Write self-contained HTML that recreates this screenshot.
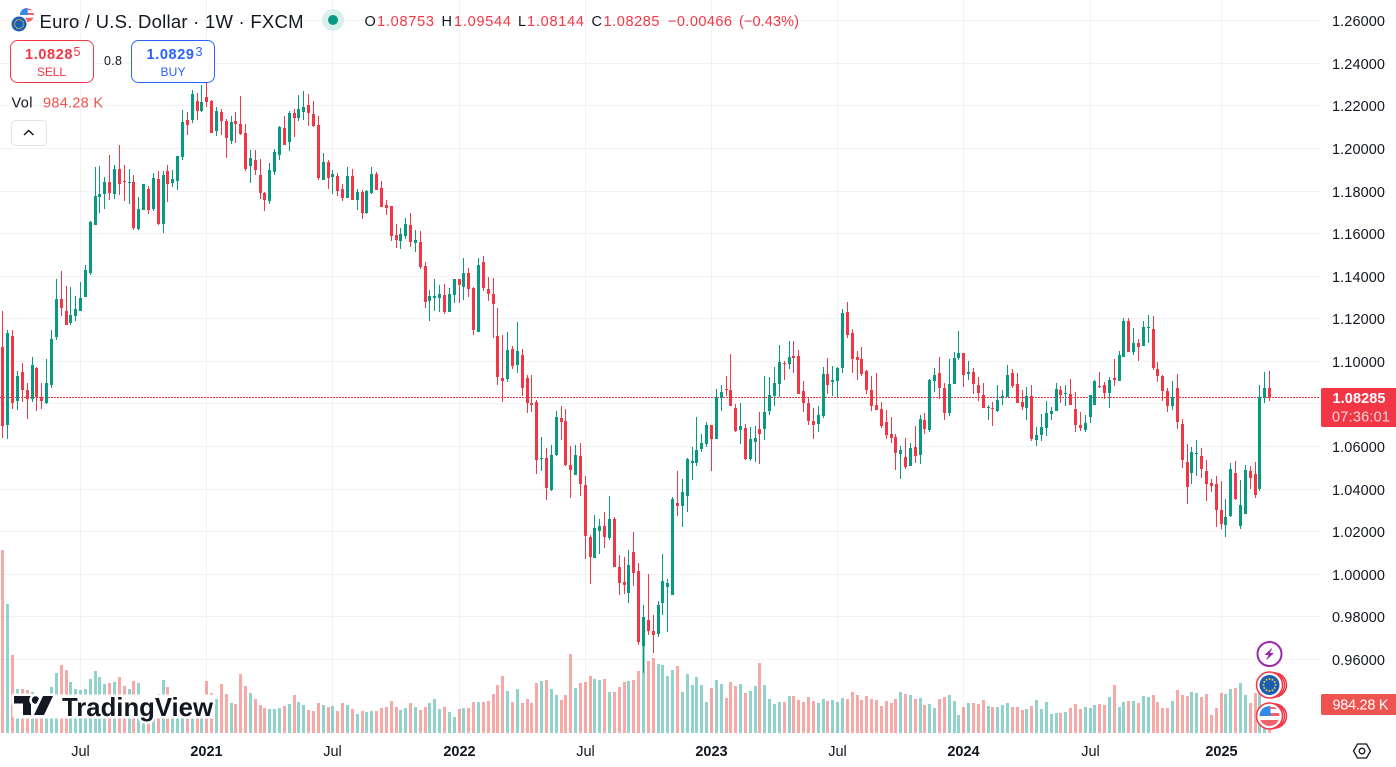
<!DOCTYPE html>
<html lang="en">
<head>
<meta charset="utf-8">
<title>Euro / U.S. Dollar 1W FXCM</title>
<style>
html,body{margin:0;padding:0;background:#fff;width:1396px;height:767px;overflow:hidden}
svg{display:block;font-family:"Liberation Sans",sans-serif}
text{fill:#131722}
</style>
</head>
<body>
<svg id="chart" xmlns="http://www.w3.org/2000/svg" width="1396" height="767" viewBox="0 0 1396 767">
<defs>
<clipPath id="us-clip"><circle cx="0" cy="0" r="10"/></clipPath>
<g id="eu-flag">
<circle r="10" fill="#1a5db4"/>
<g fill="#e6c63a">
<circle cx="0" cy="-6" r="1"/><circle cx="3" cy="-5.2" r="1"/><circle cx="5.2" cy="-3" r="1"/><circle cx="6" cy="0" r="1"/><circle cx="5.2" cy="3" r="1"/><circle cx="3" cy="5.2" r="1"/><circle cx="0" cy="6" r="1"/><circle cx="-3" cy="5.2" r="1"/><circle cx="-5.2" cy="3" r="1"/><circle cx="-6" cy="0" r="1"/><circle cx="-5.2" cy="-3" r="1"/><circle cx="-3" cy="-5.2" r="1"/>
</g>
</g>
<g id="us-flag">
<g clip-path="url(#us-clip)">
<rect x="-10" y="-10" width="20" height="20" fill="#fff"/>
<rect x="-10" y="-3" width="20" height="3" fill="#f0626c"/>
<rect x="-10" y="4" width="20" height="6" fill="#f0626c"/>
<rect x="-10" y="-10" width="11" height="10" fill="#2f8ae8"/>
<rect x="0" y="-9" width="10" height="2" fill="#f0626c"/>
</g>
</g>
</defs>

<g id="grid"></g>
<g id="volumes"></g>
<line id="lastLine" x1="0" x2="1319" stroke="#f23645" stroke-width="1" stroke-dasharray="2 1"/>
<g id="candles" shape-rendering="crispEdges"></g>

<!-- watermark -->
<g>
<rect x="12.500" y="694.500" width="202" height="24" rx="3" fill="#fff"/>
<g stroke="#fff" stroke-width="5" stroke-linejoin="round" paint-order="stroke" fill="#131722">
<path d="M14 696H31V715H23V703.500H14Z"/>
<circle cx="35.500" cy="700" r="3.700"/>
<path d="M43 696H53L44 715H34Z"/>
</g>
<text x="62" y="716" font-size="26" font-weight="700" textLength="151" lengthAdjust="spacingAndGlyphs" stroke="#fff" stroke-width="5" stroke-linejoin="round" paint-order="stroke" style="fill:#131722">TradingView</text>
</g>

<!-- legend -->
<g>
<g>
<g transform="translate(27 15) scale(0.7)"><use href="#us-flag"/></g>
<circle cx="19" cy="24" r="8.500" fill="#fff"/>
<g transform="translate(19 24) scale(0.75)"><use href="#eu-flag"/></g>
</g>
<text x="39.500" y="28" font-size="18.500" textLength="264" lengthAdjust="spacing">Euro / U.S. Dollar · 1W · FXCM</text>
<circle cx="333" cy="20" r="11" fill="#d9efeb"/>
<circle cx="333" cy="20" r="5" fill="#089981"/>
</g>

<g font-size="14.500">
<text x="364.500" y="26" textLength="11" lengthAdjust="spacing">O</text>
<text x="377" y="26" textLength="57" lengthAdjust="spacing" style="fill:#f23645">1.08753</text>
<text x="441.500" y="26" textLength="11" lengthAdjust="spacing">H</text>
<text x="454" y="26" textLength="57" lengthAdjust="spacing" style="fill:#f23645">1.09544</text>
<text x="518" y="26">L</text>
<text x="527" y="26" textLength="57" lengthAdjust="spacing" style="fill:#f23645">1.08144</text>
<text x="591.500" y="26">C</text>
<text x="603.500" y="26" textLength="56" lengthAdjust="spacing" style="fill:#f23645">1.08285</text>
<text x="668" y="26" textLength="64" lengthAdjust="spacing" style="fill:#f23645">−0.00466</text>
<text x="739" y="26" textLength="60" lengthAdjust="spacing" style="fill:#f23645">(−0.43%)</text>
</g>

<!-- trade buttons -->
<g>
<rect x="10.500" y="40.500" width="83" height="42" rx="7" fill="#fff" stroke="#f23645"/>
<text x="25" y="59" font-size="14.500" font-weight="700" textLength="47.500" lengthAdjust="spacing" style="fill:#f23645">1.0828</text>
<text x="73.500" y="56" font-size="12.500" style="fill:#f23645">5</text>
<text x="37" y="76" font-size="12" textLength="29" lengthAdjust="spacing" style="fill:#f23645">SELL</text>
</g>
<text x="104" y="65" font-size="12.500" textLength="18" lengthAdjust="spacing">0.8</text>
<g>
<rect x="131.500" y="40.500" width="83" height="42" rx="7" fill="#fff" stroke="#2962ff"/>
<text x="146.500" y="59" font-size="14.500" font-weight="700" textLength="47.500" lengthAdjust="spacing" style="fill:#2962ff">1.0829</text>
<text x="195.500" y="56" font-size="12.500" style="fill:#2962ff">3</text>
<text x="160.500" y="76" font-size="12" textLength="25" lengthAdjust="spacing" style="fill:#2962ff">BUY</text>
</g>

<g>
<text x="11.500" y="107.500" font-size="14.500" textLength="21" lengthAdjust="spacing">Vol</text>
<text x="43" y="107.500" font-size="14.500" textLength="60" lengthAdjust="spacing" style="fill:#ef5350">984.28 K</text>
</g>
<g>
<rect x="11.500" y="120.500" width="35" height="25" rx="4" fill="#fff" stroke="#e0e3eb"/>
<path d="M24 135L28.700 130.500L33.500 135" fill="none" stroke="#131722" stroke-width="1.500"/>
</g>

<!-- axes -->
<g id="priceAxis"></g>
<g id="timeAxis"></g>

<g>
<path d="M1323 388H1396V427H1323Q1321 427 1321 425V390Q1321 388 1323 388Z" fill="#f23645"/>
<text x="1332.500" y="403" font-size="14.500" textLength="53" lengthAdjust="spacing" style="fill:#fff;font-weight:700">1.08285</text>
<text x="1332" y="421.500" font-size="14.500" textLength="58" lengthAdjust="spacing" style="fill:#fcd5d9">07:36:01</text>
</g>
<g>
<path d="M1323 694H1396V715H1323Q1321 715 1321 713V696Q1321 694 1323 694Z" fill="#ef5350"/>
<text x="1332.500" y="709.500" font-size="14.500" textLength="56" lengthAdjust="spacing" style="fill:#fff">984.28 K</text>
</g>

<!-- event markers -->
<g>
<circle cx="1269.500" cy="654" r="12" fill="#fff" stroke="#9c27b0" stroke-width="2"/>
<path d="M1272.500 647.500L1264.500 655H1268.500L1266 660.500L1274 653H1270Z" fill="#9c27b0"/>
</g>
<g>
<circle cx="1274.500" cy="685" r="12" fill="#fff" stroke="#f23645" stroke-width="1.500"/>
<circle cx="1272" cy="685" r="12.500" fill="#fff" stroke="#f23645" stroke-width="1.500"/>
<circle cx="1269.500" cy="685" r="13" fill="#fff" stroke="#f23645" stroke-width="1.500"/>
<g transform="translate(1269.500 685)"><use href="#eu-flag"/></g>
</g>
<g>
<circle cx="1274.500" cy="716" r="12" fill="#fff" stroke="#f23645" stroke-width="1.500"/>
<circle cx="1272" cy="716" r="12.500" fill="#fff" stroke="#f23645" stroke-width="1.500"/>
<circle cx="1269.500" cy="716" r="13" fill="#fff" stroke="#f23645" stroke-width="1.500"/>
<g transform="translate(1269.500 716)"><use href="#us-flag"/></g>
</g>

<g fill="none" stroke="#131722" stroke-width="1.300">
<path d="M1353.500 751L1357.500 744H1366.500L1370.500 751L1366.500 758H1357.500Z"/>
<circle cx="1362" cy="751" r="2.800"/>
</g>
</svg>

<script>
const opens = [
1.1069,1.0702,1.1119,1.0815,1.0948,1.0865,1.0821,1.0968,1.0828,1.0806,
1.0890,1.1116,1.1293,1.1236,1.1179,1.1213,1.1236,1.1302,1.1415,1.1640,
1.1772,1.1786,1.1842,1.1786,1.1903,1.1847,1.1838,1.1842,1.1621,1.1711,
1.1809,1.1715,1.1856,1.1645,1.1894,1.1838,1.1847,1.1960,1.2133,1.2133,
1.2223,1.2176,1.2242,1.2223,1.2082,1.2171,1.2129,1.2035,1.2129,1.2115,
1.2072,1.1917,1.1946,1.1875,1.1791,1.1753,1.1889,1.1969,1.2096,1.2030,
1.2166,1.2143,1.2171,1.2204,1.2162,1.2110,1.1852,1.1936,1.1866,1.1871,
1.1809,1.1767,1.1871,1.1758,1.1795,1.1697,1.1791,1.1880,1.1814,1.1734,
1.1730,1.1593,1.1565,1.1589,1.1640,1.1556,1.1560,1.1448,1.1283,1.1297,
1.1297,1.1312,1.1232,1.1312,1.1387,1.1349,1.1415,1.1344,1.1138,1.1467,
1.1340,1.1316,1.1119,1.0922,1.0917,1.1058,1.0983,1.1030,1.0922,1.0804,
1.0809,1.0541,1.0546,1.0395,1.0560,1.0734,1.0720,1.0513,1.0466,1.0555,
1.0419,1.0175,1.0076,1.0203,1.0226,1.0170,1.0259,1.0034,0.9963,0.9911,
1.0104,1.0015,0.9662,0.9785,0.9733,0.9719,0.9864,0.9939,0.9902,1.0334,
1.0320,1.0367,1.0522,1.0522,1.0588,1.0611,1.0701,1.0635,1.0828,1.0870,
1.0865,1.0781,1.0677,1.0687,1.0541,1.0621,1.0682,1.0682,1.0766,1.0837,
1.0893,1.0992,1.0987,1.1025,1.1025,1.0860,1.0804,1.0720,1.0705,1.0743,
1.0940,1.0903,1.0907,1.0969,1.1232,1.1133,1.1020,1.1011,1.0954,1.0865,
1.0795,1.0776,1.0715,1.0658,1.0644,1.0565,1.0550,1.0508,1.0597,1.0560,
1.0724,1.0677,1.0907,1.0945,1.0875,1.0757,1.0893,1.1016,1.1039,1.0940,
1.0950,1.0889,1.0842,1.0781,1.0781,1.0767,1.0828,1.0832,1.0945,1.0893,
1.0809,1.0781,1.0837,1.0630,1.0654,1.0687,1.0752,1.0767,1.0865,1.0846,
1.0846,1.0776,1.0701,1.0677,1.0738,1.0795,1.0884,1.0889,1.0851,1.0922,
1.0907,1.1020,1.1189,1.1044,1.1086,1.1072,1.1156,1.1152,1.0964,1.0931,
1.0860,1.0790,1.0875,1.0705,1.0527,1.0475,1.0564,1.0555,1.0485,1.0428,
1.0424,1.0301,1.0231,1.0273,1.0475,1.0226,1.0283,1.0485,1.0470,1.0400,
1.0828,1.08753];

const highs = [
1.1236,1.1147,1.1147,1.0955,1.0990,1.0896,1.1019,1.0975,1.0898,1.1009,
1.1147,1.1387,1.1424,1.1354,1.1349,1.1307,1.1372,1.1452,1.1659,1.1913,
1.1917,1.1866,1.1969,1.1922,1.2016,1.1922,1.1903,1.1875,1.1772,1.1833,
1.1823,1.1885,1.1894,1.1894,1.1922,1.1899,1.1964,1.2181,1.2171,1.2274,
1.2260,1.2300,1.2350,1.2228,1.2195,1.2185,1.2138,1.2152,1.2171,1.2246,
1.2115,1.1993,1.1993,1.1950,1.1795,1.1932,1.1997,1.2105,1.2152,1.2176,
1.2185,1.2251,1.2270,1.2256,1.2223,1.2152,1.1978,1.1946,1.1899,1.1885,
1.1833,1.1913,1.1904,1.1809,1.1805,1.1805,1.1913,1.1889,1.1847,1.1758,
1.1730,1.1645,1.1626,1.1673,1.1697,1.1617,1.1612,1.1467,1.1335,1.1387,
1.1359,1.1363,1.1344,1.1387,1.1387,1.1485,1.1438,1.1349,1.1485,1.1495,
1.1396,1.1391,1.1250,1.1124,1.1138,1.1072,1.1185,1.1058,1.0936,1.0936,
1.0818,1.0644,1.0593,1.0607,1.0767,1.0790,1.0776,1.0602,1.0607,1.0616,
1.0461,1.0184,1.0278,1.0259,1.0292,1.0367,1.0269,1.0090,1.0081,1.0113,
1.0198,1.0052,0.9855,1.0001,0.9808,0.9874,1.0095,0.9977,1.0362,1.0485,
1.0447,1.0546,1.0597,1.0738,1.0658,1.0715,1.0701,1.0870,1.0889,1.0931,
1.1034,1.0799,1.0804,1.0705,1.0691,1.0696,1.0762,1.0931,1.0926,1.0973,
1.1077,1.1001,1.1095,1.1095,1.1053,1.0907,1.0832,1.0781,1.0790,1.0973,
1.1015,1.0978,1.0973,1.1246,1.1279,1.1152,1.1048,1.1067,1.0959,1.0931,
1.0945,1.0809,1.0771,1.0738,1.0658,1.0602,1.0640,1.0616,1.0696,1.0748,
1.0757,1.0917,1.0969,1.1020,1.0898,1.1011,1.1044,1.1142,1.1039,1.1001,
1.0969,1.0926,1.0898,1.0795,1.0809,1.0889,1.0865,1.0983,1.0964,1.0945,
1.0865,1.0879,1.0889,1.0691,1.0752,1.0814,1.0785,1.0898,1.0884,1.0889,
1.0917,1.0856,1.0762,1.0748,1.0842,1.0912,1.0950,1.0903,1.0926,1.1011,
1.1048,1.1203,1.1203,1.1156,1.1105,1.1189,1.1218,1.1213,1.0997,1.0936,
1.0875,1.0907,1.0940,1.0729,1.0612,1.0597,1.0630,1.0593,1.0536,1.0447,
1.0461,1.0438,1.0353,1.0522,1.0532,1.0442,1.0513,1.0508,1.0527,1.0889,
1.0950,1.09544];

const lows = [
1.0640,1.0633,1.0776,1.0771,1.0810,1.0729,1.0810,1.0768,1.0776,1.0799,
1.0873,1.1100,1.1213,1.1170,1.1170,1.1189,1.1234,1.1302,1.1405,1.1640,
1.1697,1.1715,1.1758,1.1762,1.1781,1.1753,1.1739,1.1617,1.1617,1.1711,
1.1692,1.1706,1.1640,1.1603,1.1748,1.1819,1.1805,1.1946,1.2063,1.2119,
1.2133,1.2170,1.2195,1.2072,1.2058,1.2063,1.1955,1.2021,1.2026,1.2063,
1.1894,1.1838,1.1875,1.1762,1.1706,1.1739,1.1875,1.1946,1.2016,1.1988,
1.2054,1.2129,1.2133,1.2105,1.2101,1.1852,1.1852,1.1809,1.1786,1.1777,
1.1753,1.1767,1.1758,1.1711,1.1669,1.1692,1.1786,1.1805,1.1725,1.1687,
1.1565,1.1532,1.1527,1.1574,1.1537,1.1513,1.1434,1.1250,1.1189,1.1236,
1.1232,1.1222,1.1232,1.1274,1.1274,1.1288,1.1303,1.1124,1.1138,1.1330,
1.1283,1.1109,1.0889,1.0809,1.0903,1.0964,1.0945,1.0837,1.0757,1.0762,
1.0470,1.0485,1.0348,1.0391,1.0555,1.0630,1.0508,1.0358,1.0466,1.0367,
1.0071,0.9954,1.0076,1.0095,1.0123,1.0160,1.0034,0.9902,0.9907,0.9864,
0.9944,0.9667,0.9536,0.9714,0.9630,0.9705,0.9808,0.9728,0.9902,1.0273,
1.0221,1.0292,1.0442,1.0508,1.0574,1.0597,1.0485,1.0635,1.0766,1.0837,
1.0790,1.0668,1.0611,1.0536,1.0532,1.0527,1.0517,1.0630,1.0748,1.0790,
1.0832,1.0912,1.0964,1.0945,1.0846,1.0762,1.0701,1.0635,1.0668,1.0734,
1.0846,1.0837,1.0832,1.0945,1.1110,1.0945,1.0912,1.0931,1.0846,1.0767,
1.0771,1.0687,1.0635,1.0616,1.0489,1.0447,1.0494,1.0508,1.0522,1.0518,
1.0658,1.0668,1.0856,1.0823,1.0724,1.0743,1.0893,1.1006,1.0879,1.0912,
1.0846,1.0813,1.0781,1.0724,1.0696,1.0762,1.0795,1.0832,1.0875,1.0804,
1.0771,1.0724,1.0626,1.0602,1.0626,1.0649,1.0724,1.0767,1.0804,1.0790,
1.0795,1.0668,1.0672,1.0668,1.0710,1.0795,1.0875,1.0823,1.0781,1.0884,
1.0907,1.1020,1.1044,1.1030,1.1001,1.1072,1.1086,1.0959,1.0903,1.0813,
1.0762,1.0771,1.0682,1.0499,1.0330,1.0424,1.0461,1.0452,1.0344,1.0386,
1.0222,1.0212,1.0175,1.0269,1.0348,1.0212,1.0283,1.0400,1.0358,1.0391,
1.0804,1.08144];

const closes = [
1.0698,1.1133,1.0806,1.0931,1.0865,1.0821,1.0983,1.0834,1.0815,1.0898,
1.1105,1.1293,1.1250,1.1170,1.1217,1.1246,1.1297,1.1429,1.1654,1.1777,
1.1786,1.1842,1.1791,1.1903,1.1833,1.1842,1.1842,1.1626,1.1715,1.1833,
1.1711,1.1861,1.1645,1.1875,1.1833,1.1856,1.1964,1.2124,1.2110,1.2256,
1.2176,1.2218,1.2218,1.2072,1.2176,1.2129,1.2049,1.2124,1.2115,1.2068,
1.1903,1.1955,1.1899,1.1791,1.1758,1.1899,1.1983,1.2101,1.2016,1.2166,
1.2143,1.2185,1.2195,1.2166,1.2105,1.1861,1.1936,1.1861,1.1880,1.1800,
1.1767,1.1871,1.1758,1.1795,1.1697,1.1800,1.1880,1.1805,1.1725,1.1720,
1.1589,1.1570,1.1598,1.1645,1.1560,1.1570,1.1443,1.1279,1.1307,1.1307,
1.1316,1.1232,1.1316,1.1387,1.1358,1.1415,1.1340,1.1147,1.1452,1.1344,
1.1316,1.1269,1.0926,1.0907,1.1053,1.0978,1.1048,1.0875,1.0804,1.0795,
1.0536,1.0546,1.0405,1.0560,1.0738,1.0715,1.0513,1.0489,1.0560,1.0423,
1.0179,1.0081,1.0217,1.0226,1.0175,1.0259,1.0034,0.9958,0.9949,1.0043,
1.0005,0.9681,0.9799,0.9733,0.9714,0.9855,0.9968,0.9958,1.0353,1.0320,
1.0386,1.0541,1.0532,1.0583,1.0616,1.0701,1.0635,1.0832,1.0856,1.0865,
1.0790,1.0673,1.0696,1.0541,1.0635,1.0640,1.0658,1.0762,1.0842,1.0898,
1.0997,1.0987,1.1020,1.1015,1.0846,1.0804,1.0720,1.0701,1.0748,1.0940,
1.0889,1.0912,1.0968,1.1227,1.1124,1.1011,1.1006,1.0940,1.0865,1.0790,
1.0771,1.0696,1.0654,1.0640,1.0569,1.0583,1.0503,1.0593,1.0555,1.0729,
1.0682,1.0912,1.0936,1.0875,1.0757,1.0893,1.1016,1.1039,1.0936,1.0950,
1.0893,1.0851,1.0781,1.0785,1.0776,1.0818,1.0837,1.0936,1.0884,1.0804,
1.0785,1.0837,1.0635,1.0654,1.0691,1.0757,1.0767,1.0870,1.0842,1.0851,
1.0795,1.0701,1.0687,1.0710,1.0842,1.0907,1.0879,1.0851,1.0912,1.0912,
1.1030,1.1189,1.1044,1.1086,1.1067,1.1161,1.1161,1.0969,1.0931,1.0860,
1.0790,1.0832,1.0715,1.0536,1.0409,1.0574,1.0569,1.0494,1.0424,1.0414,
1.0301,1.0236,1.0269,1.0494,1.0353,1.0325,1.0489,1.0452,1.0372,1.0832,
1.0875,1.08285];

const volumesK = [
6300,4460,2680,1530,1530,1470,1400,1300,1300,1240,
1575,2060,2335,2160,1750,1505,1470,1505,1850,2130,
1920,1680,1715,1750,1920,1610,1505,1780,1715,1265,
1130,1130,1330,1815,1575,1130,920,1230,1265,900,
1130,1130,1780,1370,1160,1680,1335,1025,990,2025,
1610,1370,1160,955,850,815,815,850,920,990,
1300,1060,955,780,750,1025,955,885,920,750,
1025,955,815,645,750,715,750,750,850,885,
1090,885,780,850,1025,885,780,885,1025,1160,
815,885,715,540,815,850,850,1060,1060,1060,
1090,1335,1645,1955,1440,1060,1505,1025,1160,1025,
1715,1780,1815,1505,1300,1125,1300,2715,1540,1715,
1750,1955,1850,1815,1850,1400,1400,1575,1750,1780,
1815,2130,3030,2470,2575,2370,2335,1955,2160,2300,
1400,2025,1645,1920,1645,1060,1540,1815,1680,1195,
1750,1610,1680,1370,1440,1610,2400,1645,1160,990,
1060,1060,1265,1265,1125,1060,1230,1090,1025,1160,
1090,1125,1060,1195,1160,1400,1300,1125,1265,1160,
1125,920,1090,1025,1160,1400,1335,1300,1160,1195,
955,990,850,1160,1230,1300,1090,610,885,1025,
1025,990,1125,920,885,885,955,1025,885,885,
780,815,920,1125,815,1060,645,680,680,715,
850,990,815,885,850,955,990,955,1230,1645,
885,1060,1090,1090,1025,1265,1230,1300,1060,850,
850,1090,1470,1300,1265,1400,1370,1230,1335,610,
850,1370,1335,1505,1540,1715,1300,1025,1370,1700,
1000,984.28];

const priceTicks = [1.26,1.24,1.22,1.20,1.18,1.16,1.14,1.12,1.10,1.08,1.06,1.04,1.02,1.00,0.98,0.96];
const timeTickLabels = ['Jul','2021','Jul','2022','Jul','2023','Jul','2024','Jul','2025'];
const timeTickBars = [16,42,68,94,120,146,172,198,224,251];
const lastPrice = 1.08285;

const NS = 'http://www.w3.org/2000/svg';
const priceY = function (p) { return 659.3 - (p - 0.96) * 2128.6; };
const barX = function (i) { return Math.floor(2.93 + 4.853 * i); };
const volTop = function (v) { return 733 - v / 34.5; };
const UP = '#089981', DOWN = '#f23645';

function make(tag, parent) {
  const el = document.createElementNS(NS, tag);
  parent.appendChild(el);
  return el;
}
function setAll(el, attrs) {
  Object.keys(attrs).forEach(function (k) { el.setAttribute(k, attrs[k]); });
}

const gridG = document.getElementById('grid');
const priceAxisG = document.getElementById('priceAxis');
const timeAxisG = document.getElementById('timeAxis');
const volG = document.getElementById('volumes');
const candleG = document.getElementById('candles');

priceTicks.forEach(function (p) {
  const y = Math.floor(priceY(p));
  const line = make('rect', gridG);
  
  
  setAll(line, {x: 0, y: y, width: 1320, height: 1, fill: '#f2f2f3'});
  const label = make('text', priceAxisG);
  
  
  setAll(label, {x: 1332, y: y + 6, 'font-size': 14.5, textLength: 53, lengthAdjust: 'spacing'});
  label.textContent = p.toFixed(5);
});

timeTickBars.forEach(function (b, k) {
  const x = barX(b);
  const line = make('rect', gridG);
  
  
  setAll(line, {x: x, y: 0, width: 1, height: 733, fill: '#f2f2f3'});
  const isYear = timeTickLabels[k] !== 'Jul';
  const label = make('text', timeAxisG);
  
  
  setAll(label, {x: x + 0.5, y: 756, 'font-size': 14.5, 'text-anchor': 'middle'});
  if (isYear) { label.setAttribute('font-weight', '700'); }
  label.textContent = timeTickLabels[k];
});

const lastLine = document.getElementById('lastLine');
lastLine.setAttribute('y1', Math.floor(priceY(lastPrice)) + 0.5);
lastLine.setAttribute('y2', Math.floor(priceY(lastPrice)) + 0.5);

closes.forEach(function (c, i) {
  const up = c >= opens[i];
  const col = up ? UP : DOWN;
  const n = barX(i);

  const top = Math.round(volTop(volumesK[i]));
  const bar = make('rect', volG);
  
  
  setAll(bar, {x: n - 1, y: top, width: 3, height: 733 - top, fill: up ? 'rgba(38,166,154,0.5)' : 'rgba(239,83,80,0.5)'});

  const wy1 = Math.round(priceY(highs[i]));
  const wy2 = Math.round(priceY(lows[i]));
  const wick = make('rect', candleG);
  
  
  setAll(wick, {x: n, y: wy1, width: 1, height: Math.max(1, wy2 - wy1), fill: col});

  const by1 = Math.round(priceY(Math.max(opens[i], c)));
  const by2 = Math.round(priceY(Math.min(opens[i], c)));
  const body = make('rect', candleG);
  
  
  setAll(body, {x: n - 1, y: by1, width: 3, height: Math.max(1, by2 - by1), fill: col});
});
</script>
</body>
</html>
